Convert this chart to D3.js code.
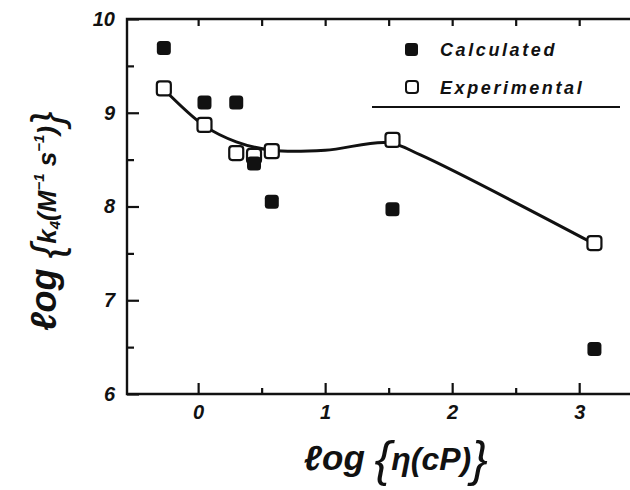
<!DOCTYPE html>
<html>
<head>
<meta charset="utf-8">
<script src="https://cdn.jsdelivr.net/npm/d3@7"></script>
<style>
  body { margin: 0; background: #fff; }
  text { font-family: "Liberation Sans", Arial, sans-serif; font-style: italic; font-weight: bold; fill: #111; }
</style>
</head>
<body>
<svg id="chart" width="630" height="490"></svg>
<script>
// log viscosity (cP) for each solvent
var logEta = [-0.27, 0.05, 0.30, 0.44, 0.58, 1.53, 3.12];
// log k4, calculated and measured
var calcK = [9.69, 9.11, 9.11, 8.46, 8.05, 7.97, 6.48];
var expK  = [9.26, 8.87, 8.57, 8.54, 8.59, 8.71, 7.61];
// smooth curve drawn through the experimental values
var fitEta = [-0.27, 0.05, 0.30, 0.58, 1.00, 1.50, 1.75, 3.12];
var fitK   = [9.25, 8.86, 8.69, 8.60, 8.60, 8.68, 8.55, 7.60];

var xTicks = [0, 1, 2, 3];
var xMinor = [0.5, 1.5, 2.5];
var yTicks = [6, 7, 8, 9, 10];
var yMinor = [6.5, 7.5, 8.5, 9.5];

var svg = d3.select("#chart");

var x = d3.scaleLinear().domain([-0.56, 3.4]).range([127, 630]);
var y = d3.scaleLinear().domain([6, 10]).range([394, 19]);

var ink = "#111";
var left = x.range()[0];

// frame: left, bottom and top edges (no right edge)
svg.append("path")
   .attr("d", d3.line()([[630, y(10)], [left, y(10)], [left, y(6)], [630, y(6)]]))
   .attr("fill", "none")
   .attr("stroke", ink)
   .attr("stroke-width", 2.4);

// inward ticks
function styleAxis(g) {
  g.select(".domain").remove();
  g.selectAll(".tick line").attr("stroke", ink).attr("stroke-width", 2.2);
  g.selectAll("text").style("font-size", "20px").attr("fill", ink);
}

svg.append("g")
   .attr("transform", "translate(0," + y(6) + ")")
   .call(d3.axisBottom(x).tickValues(xTicks).tickSizeInner(-11).tickPadding(11).tickFormat(d3.format("d")))
   .call(styleAxis);
svg.append("g")
   .attr("transform", "translate(0," + y(6) + ")")
   .call(d3.axisBottom(x).tickValues(xMinor).tickSizeInner(-6).tickFormat(""))
   .call(styleAxis);
svg.append("g")
   .attr("transform", "translate(0," + y(10) + ")")
   .call(d3.axisTop(x).tickValues(xTicks.concat(xMinor)).tickSizeInner(-7).tickFormat(""))
   .call(styleAxis);
svg.append("g")
   .attr("transform", "translate(" + left + ",0)")
   .call(d3.axisLeft(y).tickValues(yTicks).tickSizeInner(-12).tickPadding(12).tickFormat(d3.format("d")))
   .call(styleAxis);
svg.append("g")
   .attr("transform", "translate(" + left + ",0)")
   .call(d3.axisLeft(y).tickValues(yMinor).tickSizeInner(-7).tickFormat(""))
   .call(styleAxis);

// fitted curve
var fit = d3.zip(fitEta, fitK);
svg.append("path")
   .datum(fit)
   .attr("fill", "none")
   .attr("stroke", ink)
   .attr("stroke-width", 3)
   .attr("d", d3.line().x(d => x(d[0])).y(d => y(d[1])).curve(d3.curveCatmullRom.alpha(0.5)));

// markers
var sz = 14;
svg.append("g").selectAll("rect")
   .data(d3.zip(logEta, expK))
   .join("rect")
   .attr("x", d => x(d[0]) - sz / 2)
   .attr("y", d => y(d[1]) - sz / 2)
   .attr("width", sz).attr("height", sz)
   .attr("rx", 3)
   .attr("fill", "#fff")
   .attr("stroke", ink)
   .attr("stroke-width", 2.2);

svg.append("g").selectAll("rect")
   .data(d3.zip(logEta, calcK))
   .join("rect")
   .attr("x", d => x(d[0]) - sz / 2)
   .attr("y", d => y(d[1]) - sz / 2)
   .attr("width", sz).attr("height", sz)
   .attr("rx", 3.5)
   .attr("fill", ink);

// legend
var legend = svg.append("g");
legend.append("rect").attr("x", 405).attr("y", 43).attr("width", 13).attr("height", 13)
      .attr("rx", 3).attr("fill", ink);
legend.append("text").attr("x", 440).attr("y", 56).style("font-size", "18px")
      .style("letter-spacing", "2.6px").text("Calculated");
legend.append("rect").attr("x", 406).attr("y", 81).attr("width", 12).attr("height", 12)
      .attr("rx", 3).attr("fill", "#fff").attr("stroke", ink).attr("stroke-width", 2);
legend.append("text").attr("x", 440).attr("y", 94).style("font-size", "18px")
      .style("letter-spacing", "2.6px").text("Experimental");
legend.append("line").attr("x1", 372).attr("x2", 620).attr("y1", 107).attr("y2", 107)
      .attr("stroke", ink).attr("stroke-width", 2.2);

// x axis title
var xt = svg.append("text").attr("x", 304).attr("y", 470).style("font-size", "32px");
xt.append("tspan").style("font-size", "35px").text("ℓog ");
xt.append("tspan").style("font-size", "50px").style("font-weight", "normal").attr("dy", 6).text("{");
xt.append("tspan").attr("dy", -6).text("η(cP)");
xt.append("tspan").style("font-size", "50px").style("font-weight", "normal").attr("dy", 6).text("}");

// y axis title, reads bottom to top
var yt = svg.append("text").attr("transform", "translate(56,331) rotate(-90)")
            .style("font-size", "26px");
yt.append("tspan").style("font-size", "36px").text("ℓog ");
yt.append("tspan").style("font-size", "44px").style("font-weight", "normal").attr("dy", 6).text("{");
yt.append("tspan").attr("dy", -6).text("k");
yt.append("tspan").style("font-size", "15px").attr("dy", 4).text("4");
yt.append("tspan").attr("dy", -4).text("(M");
yt.append("tspan").style("font-size", "15px").attr("dy", -12).text("−1");
yt.append("tspan").attr("dy", 12).text(" s");
yt.append("tspan").style("font-size", "15px").attr("dy", -12).text("−1");
yt.append("tspan").attr("dy", 12).text(")");
yt.append("tspan").style("font-size", "44px").style("font-weight", "normal").attr("dy", 6).text("}");
</script>
</body>
</html>
